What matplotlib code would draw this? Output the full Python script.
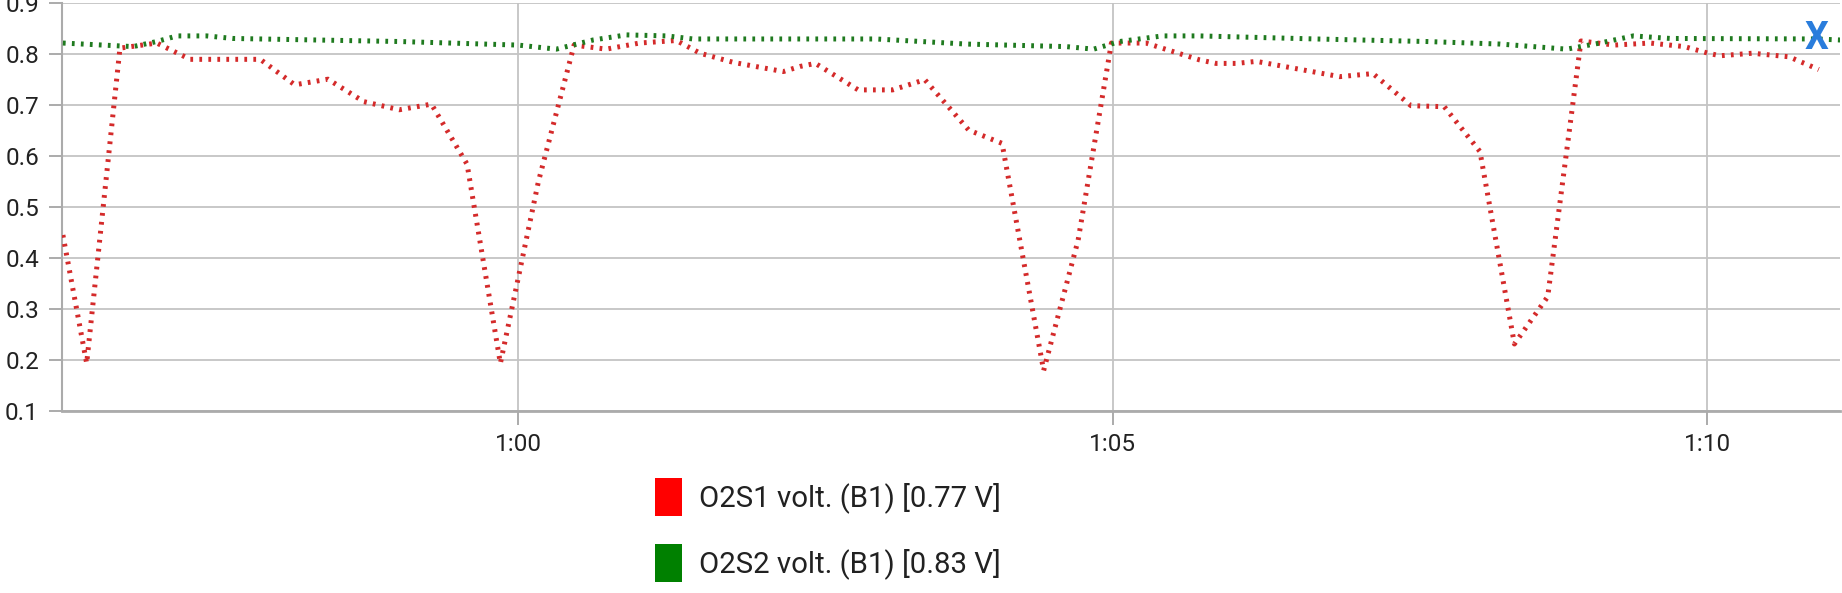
"""
O2 sensor voltages (bank 1) over time, redrawn as a dotted line chart
with a small legend below the plot.
"""
import matplotlib
from matplotlib import pyplot as plt
from matplotlib.patches import Patch
from matplotlib.ticker import FuncFormatter, MultipleLocator
matplotlib.use('Agg')

# time stamps in seconds
red_times = [56.17, 56.37, 56.65, 56.96, 57.24, 57.83, 58.12, 58.40, 58.70, 59.00,
             59.27, 59.57, 59.85, 60.17, 60.47, 60.74, 61.02, 61.33, 61.53, 61.81,
             62.23, 62.37, 62.50, 62.86, 63.15, 63.42, 63.79, 64.07, 64.42, 64.71,
             64.99, 65.28, 65.73, 65.87, 66.04, 66.21, 66.91, 67.19, 67.51, 67.79,
             68.09, 68.38, 68.66, 68.94, 69.22, 69.52, 69.81, 70.01, 70.11, 70.38,
             70.69, 70.94]
red_volts = [0.445, 0.193, 0.812, 0.822, 0.790, 0.790, 0.740, 0.751, 0.707, 0.691,
             0.702, 0.584, 0.193, 0.550, 0.818, 0.810, 0.822, 0.827, 0.802, 0.784,
             0.766, 0.776, 0.782, 0.730, 0.730, 0.750, 0.651, 0.625, 0.179, 0.435,
             0.822, 0.822, 0.789, 0.782, 0.782, 0.786, 0.756, 0.762, 0.699, 0.697,
             0.609, 0.231, 0.324, 0.826, 0.818, 0.822, 0.815, 0.802, 0.797, 0.802,
             0.795, 0.770]

green_times = [56.17, 56.76, 56.96, 57.13, 57.38, 57.60, 59.00, 60.00, 60.32, 60.63,
               60.91, 61.25, 61.47, 63.01, 63.77, 64.61, 64.84, 65.06, 65.42, 65.73,
               66.71, 67.64, 68.26, 68.82, 69.10, 69.38, 69.69, 70.92, 71.12]
green_volts = [0.822, 0.815, 0.825, 0.836, 0.836, 0.831, 0.825, 0.818, 0.810, 0.828,
               0.838, 0.836, 0.830, 0.830, 0.820, 0.815, 0.810, 0.825, 0.836, 0.836,
               0.830, 0.825, 0.820, 0.810, 0.822, 0.836, 0.831, 0.830, 0.828]

series_names = ["O2S1 volt. (B1)", "O2S2 volt. (B1)"]
line_colors = ["#d42a2a", "#1f7a1f"]
legend_colors = ["#ff0000", "#008000"]

FONT = "Roboto"
GRID = "#c4c4c4"
AXIS = "#ababab"


def time_label(x, _):
    """Formats seconds as m:ss."""
    secs = int(round(x))
    return f"{secs // 60}:{secs % 60:02d}"


def plot_o2_sensors():
    """
    Draws both sensor lines, the grid, the cursor mark and the legend.
    """
    fig = plt.figure(figsize=(18.42, 5.93), dpi=100)
    ax = fig.add_axes([0.0335, 0.3074, 0.9655, 0.687])

    dots = (0, (0.55, 1.25))
    ax.plot(red_times, red_volts, color=line_colors[0], lw=3.6,
            linestyle=dots, dash_capstyle="butt", zorder=3)
    ax.plot(green_times, green_volts, color=line_colors[1], lw=3.6,
            linestyle=dots, dash_capstyle="butt", zorder=3)

    # cursor mark at the last green sample
    ax.text(green_times[-2], green_volts[-2], "X", color="#2a7ddc",
            fontsize=27, fontweight="bold", family=FONT,
            ha="center", va="center", zorder=4)

    ax.set_xlim(56.16, 71.12)
    ax.set_ylim(0.1, 0.9)
    ax.xaxis.set_major_locator(MultipleLocator(5))
    ax.xaxis.set_major_formatter(FuncFormatter(time_label))
    ax.yaxis.set_major_locator(MultipleLocator(0.1))
    ax.yaxis.set_major_formatter(FuncFormatter(lambda y, _: f"{y:.1f}"))

    ax.grid(True, color=GRID, lw=1.3, zorder=0)
    ax.set_axisbelow(True)
    for side in ["top", "right"]:
        ax.spines[side].set_visible(False)
    ax.spines["left"].set_color(AXIS)
    ax.spines["left"].set_linewidth(1.5)
    ax.spines["bottom"].set_color(AXIS)
    ax.spines["bottom"].set_linewidth(2.0)

    ax.tick_params(axis="y", length=9.4, width=1.4, color=AXIS, pad=7,
                   labelsize=17.5, labelcolor="#222222")
    ax.tick_params(axis="x", length=10, width=1.4, color=AXIS, pad=6,
                   labelsize=17.5, labelcolor="#222222")
    for lab in ax.get_xticklabels() + ax.get_yticklabels():
        lab.set_family(FONT)

    handles = [Patch(facecolor=c, edgecolor="none") for c in legend_colors]
    labels = [f"{series_names[0]} [{red_volts[-1]:.2f} V]",
              f"{series_names[1]} [{green_volts[-1]:.2f} V]"]
    fig.legend(handles, labels, loc="upper left",
               bbox_to_anchor=(0.3556, 0.194), frameon=False,
               borderpad=0, borderaxespad=0, handlelength=0.92,
               handleheight=1.6, handletextpad=0.58, labelspacing=0.95,
               prop={"family": FONT, "size": 21.2}, labelcolor="#212121")

    fig.savefig("out.png", dpi=100)


def execute():
    """
    Builds the chart and saves it.
    """
    plot_o2_sensors()


if __name__ == "__main__":

    execute()
